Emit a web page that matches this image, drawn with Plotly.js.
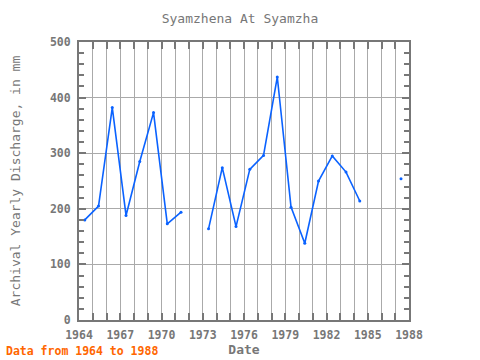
<!DOCTYPE html>
<html>
<head>
<meta charset="utf-8">
<script src="https://cdn.plot.ly/plotly-3.0.1.min.js"></script>
<style>html,body{margin:0;padding:0;background:#fff;}#chart{width:480px;height:360px;}</style>
</head>
<body>
<div id="chart"></div>
<script>
var years = [1964,1965,1966,1967,1968,1969,1970,1971,1972,1973,1974,1975,1976,1977,1978,1979,1980,1981,1982,1983,1984,1985,1986,1987];
var discharge = [180,205,382,188,285,373,173,194,null,164,274,168,271,296,437,203,138,250,295,266,214,null,null,254];
var xTickVals = [1964,1967,1970,1973,1976,1979,1982,1985,1988];
var xTickText = ["1964","1967","1970","1973","1976","1979","1982","1985","1988"];

var xs = years.map(function(y){ return y + 0.42; });
var font = "DejaVu Sans Mono, monospace";
var gray = "#777777";

var trace = {
  x: xs, y: discharge, type: "scatter", mode: "lines+markers",
  line: {color: "#0a62ff", width: 1.6},
  marker: {color: "#0a62ff", size: 3},
  connectgaps: false, hoverinfo: "x+y"
};

var layout = {
  width: 480, height: 360,
  margin: {l: 79, r: 71, t: 42, b: 40},
  paper_bgcolor: "#fff", plot_bgcolor: "#fff",
  showlegend: false,
  title: {text: "Syamzhena At Syamzha", font: {family: font, size: 13, color: gray}, x: 0.5, xanchor: "center", y: 0.95, yanchor: "middle"},
  xaxis: {
    range: [1964, 1988], tickvals: xTickVals, ticktext: xTickText,
    ticks: "inside", ticklen: 7, tickwidth: 2, tickcolor: gray,
    showline: true, linecolor: gray, linewidth: 2, mirror: "ticks",
    showgrid: true, gridcolor: "#aaaaaa", gridwidth: 1,
    minor: {dtick: 1, tick0: 1964, ticks: "inside", ticklen: 7, tickwidth: 2, tickcolor: gray, showgrid: true, gridcolor: "#aaaaaa", gridwidth: 1},
    tickfont: {family: font, size: 11.5, color: gray, weight: "bold"},
    ticklabelstandoff: 3,
    title: {text: "Date", font: {family: font, size: 13, color: gray, weight: "bold"}, standoff: 2},
    zeroline: false, fixedrange: true
  },
  yaxis: {
    range: [0, 500], dtick: 100, tick0: 0,
    ticks: "inside", ticklen: 7, tickwidth: 2, tickcolor: gray,
    showline: true, linecolor: gray, linewidth: 2, mirror: "ticks",
    showgrid: true, gridcolor: "#aaaaaa", gridwidth: 1,
    minor: {dtick: 20, ticks: "inside", ticklen: 5, tickwidth: 2, tickcolor: gray, showgrid: false},
    tickfont: {family: font, size: 11.5, color: gray, weight: "bold"},
    ticklabelstandoff: 4,
    title: {text: "Archival Yearly Discharge, in mm", font: {family: font, size: 13, color: gray}, standoff: 26},
    zeroline: false, fixedrange: true
  },
  annotations: [{
    text: "Data from 1964 to 1988", xref: "paper", yref: "paper",
    x: -0.226, y: -0.112, xanchor: "left", yanchor: "middle", showarrow: false,
    font: {family: font, size: 11.5, color: "#ff6600", weight: "bold"}
  }]
};

Plotly.newPlot("chart", [trace], layout, {displayModeBar: false, staticPlot: true});
</script>
</body>
</html>
